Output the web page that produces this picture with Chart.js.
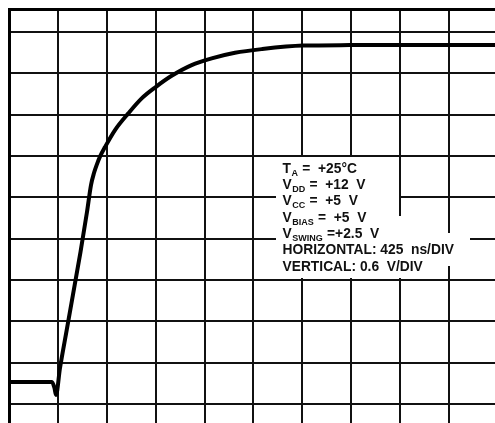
<!DOCTYPE html>
<html>
<head>
<meta charset="utf-8">
<script src="https://cdn.jsdelivr.net/npm/chart.js@4"></script>
<style>
  html, body { margin: 0; padding: 0; background: #fff; }
  #wrap { width: 495px; height: 423px; }
</style>
</head>
<body>
<div id="wrap"><canvas id="scope" width="495" height="423"></canvas></div>
<script>
// trace (425 ns/DIV, 0.6 V/DIV)
const tDiv = [0, 0.879, 0.930, 0.961, 1.043, 1.180, 1.462, 1.595, 1.677, 1.738, 1.800, 1.861,
  1.963, 2.168, 2.440, 2.714, 3.006, 3.327, 3.736, 4.145, 4.622, 5.168, 6.012, 6.973, 8.0, 9.94];
const vDiv = [0.532, 0.532, 0.387, 0.218, 0.871, 1.790, 3.678, 4.646, 5.299, 5.589, 5.807, 5.988,
  6.218, 6.630, 7.034, 7.397, 7.677, 7.943, 8.202, 8.364, 8.500, 8.589, 8.674, 8.686, 8.69, 8.69];

// visible window of the graticule
const xRange = [0, 9.94];
const yRange = [-0.46, 9.56];

// test conditions box
const noteMain = ["T", "V", "V", "V", "V", "HORIZONTAL: 425  ns/DIV", "VERTICAL: 0.6  V/DIV"];
const noteSub = ["A", "DD", "CC", "BIAS", "SWING", "", ""];
const noteRest = [" =  +25°C", " =  +12  V", " =  +5  V", " =  +5  V", " =+2.5  V", "", ""];

const notePlugin = {
  id: "notes",
  beforeDatasetsDraw(chart) {
    const ctx = chart.ctx;
    ctx.save();
    // grid is wiped out behind the text
    ctx.fillStyle = "#fff";
    ctx.fillRect(276, 157, 123, 121);
    ctx.fillRect(399, 216, 49, 62);
    ctx.fillRect(446, 233, 24, 33);

    const big = "bold 13.8px 'Liberation Sans', Arial, sans-serif";
    const small = "bold 9px 'Liberation Sans', Arial, sans-serif";
    ctx.fillStyle = "#111";
    ctx.textBaseline = "alphabetic";
    let y = 172.7;
    for (let i = 0; i < noteMain.length; i++) {
      let x = 282.5;
      ctx.font = big;
      ctx.fillText(noteMain[i], x, y);
      x += ctx.measureText(noteMain[i]).width;
      if (noteSub[i]) {
        ctx.font = small;
        ctx.fillText(noteSub[i], x + 0.5, y + 3);
        x += ctx.measureText(noteSub[i]).width + 1;
        ctx.font = big;
        ctx.fillText(noteRest[i], x, y);
      }
      y += 16.33;
    }
    ctx.restore();
  }
};

const config = {
  type: "line",
  data: {
    datasets: [
      {
        data: tDiv.map((t, i) => ({ x: t, y: vDiv[i] })),
        borderColor: "#000",
        borderWidth: 4,
        pointRadius: 0,
        fill: false,
        cubicInterpolationMode: "monotone",
        borderJoinStyle: "round",
        borderCapStyle: "round",
      },
    ],
  },
  options: {
    responsive: false,
    animation: false,
    layout: { padding: { left: 9, top: 9, right: 0, bottom: 0 } },
    plugins: {
      legend: { display: false },
      tooltip: { enabled: false },
    },
    scales: {
      x: {
        type: "linear",
        position: "top",
        min: xRange[0],
        max: xRange[1],
        ticks: { display: false, stepSize: 1, includeBounds: false },
        grid: { color: "#111", lineWidth: 2, drawTicks: false },
        border: { display: true, color: "#000", width: 3 },
      },
      y: {
        type: "linear",
        position: "left",
        min: yRange[0],
        max: yRange[1],
        ticks: { display: false, stepSize: 1, includeBounds: false },
        grid: { color: "#111", lineWidth: 2, drawTicks: false },
        border: { display: true, color: "#000", width: 3 },
      },
    },
  },
  plugins: [notePlugin],
};

new Chart(document.getElementById("scope").getContext("2d"), config);
</script>
</body>
</html>
